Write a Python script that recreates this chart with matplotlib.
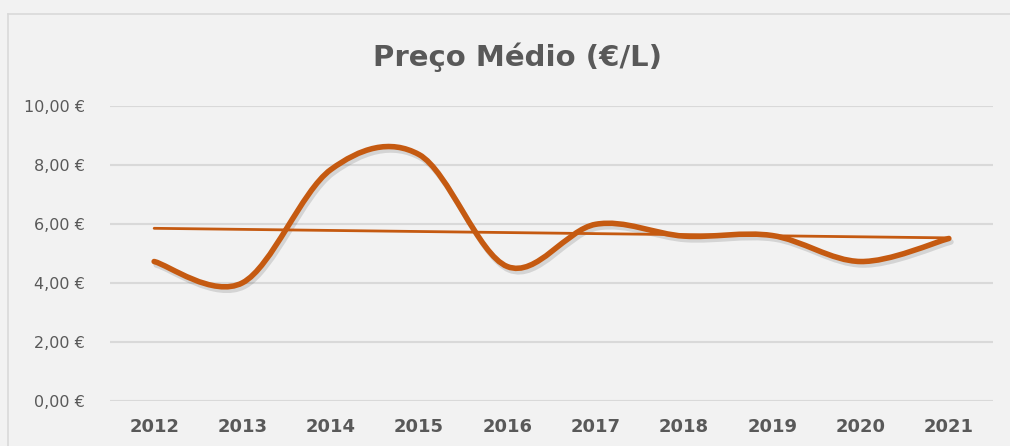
import numpy as np
import matplotlib
matplotlib.use("Agg")
import matplotlib.pyplot as plt
import matplotlib.patheffects as pe
from matplotlib.path import Path
from matplotlib.patches import PathPatch
from matplotlib.lines import Line2D

# data
anos = ["2012", "2013", "2014", "2015", "2016", "2017", "2018", "2019", "2020", "2021"]
preco = [4.72, 4.00, 7.83, 8.34, 4.55, 5.98, 5.58, 5.60, 4.72, 5.50]
y_ticks = [0, 2, 4, 6, 8, 10]

cor = "#C55A11"
cinza = "#595959"

fig = plt.figure(figsize=(10.1, 4.46), dpi=100)
fig.patch.set_facecolor("#F2F2F2")
# chart area border (top and left edges only are visible)
bx, by = 7.5 / 1010, (446 - 13.5) / 446
fig.add_artist(Line2D([bx, 1.0], [by, by], transform=fig.transFigure, color="#D9D9D9", linewidth=1.2))
fig.add_artist(Line2D([bx, bx], [0, by], transform=fig.transFigure, color="#D9D9D9", linewidth=1.2))

ax = fig.add_axes([110 / 1010, 45 / 446, 883 / 1010, 295.5 / 446])
ax.set_facecolor("#F2F2F2")

x = np.arange(len(anos))
y = np.array(preco)

# excel style smoothed line: cubic bezier segments through the points
pts = np.column_stack([x, y])
verts = [pts[0]]
codes = [Path.MOVETO]
n = len(pts)
for i in range(n - 1):
    p0 = pts[max(i - 1, 0)]
    p1 = pts[i]
    p2 = pts[i + 1]
    p3 = pts[min(i + 2, n - 1)]
    c1 = p1 + (p2 - p0) / 6
    c2 = p2 - (p3 - p1) / 6
    verts += [c1, c2, p2]
    codes += [Path.CURVE4] * 3
curva = PathPatch(Path(verts, codes), fill=False, edgecolor=cor, linewidth=4,
                  capstyle="round", joinstyle="round", zorder=3,
                  path_effects=[pe.SimpleLineShadow(offset=(1.5, -2.5), shadow_color="black", alpha=0.12),
                                pe.Normal()])
ax.add_patch(curva)

# linear trend line
a, b = np.polyfit(x, y, 1)
ax.plot(x, a * x + b, color=cor, linewidth=2, zorder=4, solid_capstyle="round")

ax.set_xlim(-0.5, len(anos) - 0.5)
ax.set_ylim(0, 10)
ax.set_yticks(y_ticks)
ax.set_yticklabels([f"{v:.2f}".replace(".", ",") + " €" for v in y_ticks],
                   color=cinza, fontsize=11.5)
ax.set_xticks(x)
ax.set_xticklabels(anos, color=cinza, fontsize=13, fontweight="bold",
                   family="DejaVu Sans Condensed")
ax.tick_params(length=0)
ax.tick_params(axis="y", pad=18)
ax.tick_params(axis="x", pad=12)
ax.grid(axis="y", color="#D9D9D9", linewidth=1.5)
ax.set_axisbelow(True)
for s in ax.spines.values():
    s.set_visible(False)

fig.text(0.512, (446 - 57) / 446, "Preço Médio (€/L)", ha="center", va="center",
         fontsize=21, fontweight="bold", color=cinza, family="DejaVu Sans Condensed")

plt.savefig("out.png", dpi=100, facecolor=fig.get_facecolor())
